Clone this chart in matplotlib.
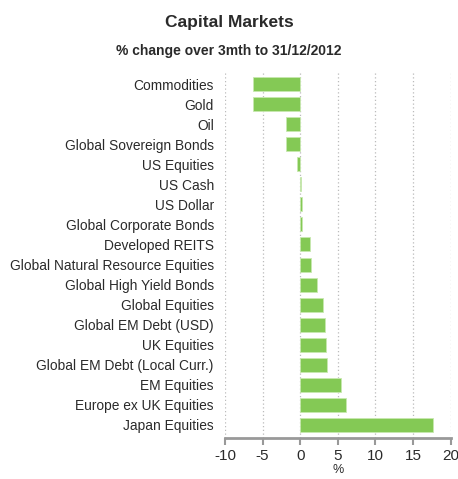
import matplotlib.pyplot as plt

plt.rcParams['font.family'] = ['Liberation Sans', 'DejaVu Sans']

# Asset classes, % change over the 3 months to 31/12/2012
assets = ['Commodities', 'Gold', 'Oil', 'Global Sovereign Bonds', 'US Equities',
          'US Cash', 'US Dollar', 'Global Corporate Bonds', 'Developed REITS',
          'Global Natural Resource Equities', 'Global High Yield Bonds',
          'Global Equities', 'Global EM Debt (USD)', 'UK Equities',
          'Global EM Debt (Local Curr.)', 'EM Equities', 'Europe ex UK Equities',
          'Japan Equities']
change = [-6.3, -6.3, -1.9, -1.85, -0.4, 0.08, 0.2, 0.25, 1.27, 1.45, 2.3,
          3.08, 3.3, 3.43, 3.52, 5.37, 6.12, 17.6]
xticks = [-10, -5, 0, 5, 10, 15, 20]

fig = plt.figure(figsize=(4.58, 4.79), dpi=100)
ax = fig.add_axes([0.491, 0.0856, 0.493, 0.762])

pos = list(range(len(assets)))
ax.barh(pos, change, height=0.7, color='#84c955', edgecolor='#c8e8b0', linewidth=0.6, zorder=3)

ax.set_ylim(len(assets) - 0.35, -0.55)
ax.set_xlim(-10, 20)
ax.set_xticks(xticks)
ax.set_xticklabels([str(t) for t in xticks], fontsize=11, color='#2a2a2a')
ax.set_yticks(pos)
ax.set_yticklabels(assets, fontsize=9.9, color='#2a2a2a')
ax.tick_params(axis='y', length=0, pad=8)
ax.tick_params(axis='x', length=5, width=1.5, color='#999999', pad=3)

ax.grid(axis='x', linestyle=(0, (1, 2)), color='#bbbbbb', linewidth=0.9, zorder=0)
for s in ['top', 'right', 'left']:
    ax.spines[s].set_visible(False)
ax.spines['bottom'].set_color('#999999')
ax.spines['bottom'].set_linewidth(2)

ax.set_xlabel('%', fontsize=9, color='#2a2a2a', labelpad=1)

fig.text(0.5, 0.952, 'Capital Markets', ha='center', va='center',
         fontsize=12.5, fontweight='bold', color='#2a2a2a')
fig.text(0.5, 0.894, '% change over 3mth to 31/12/2012', ha='center', va='center',
         fontsize=10, fontweight='bold', color='#2a2a2a')

fig.savefig('out.png', dpi=100)
